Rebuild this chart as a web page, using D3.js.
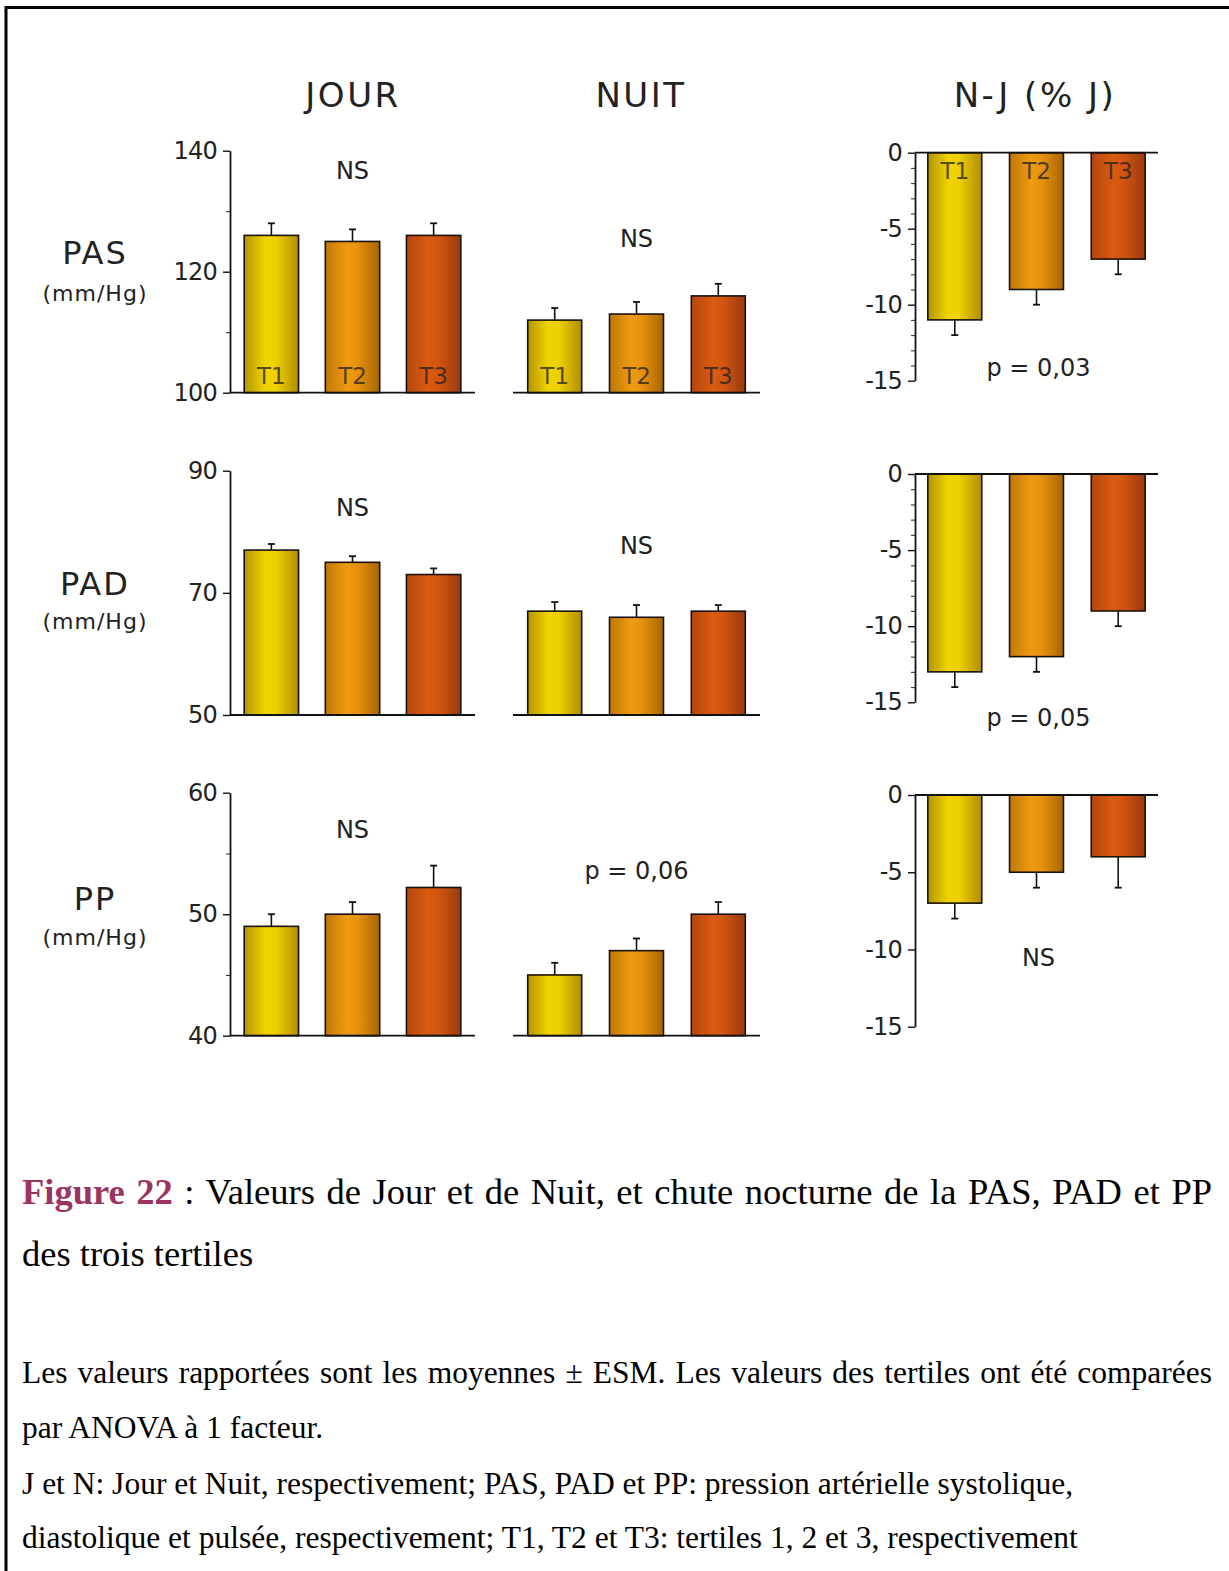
<!DOCTYPE html>
<html>
<head>
<meta charset="utf-8">
<script src="https://cdn.jsdelivr.net/npm/d3@7"></script>
<style>
  html, body { margin: 0; padding: 0; background: #fff; }
  svg { display: block; }
  .lbl { font-family: "DejaVu Sans", sans-serif; fill: #222; }
  .cap { font-family: "Liberation Serif", "Times New Roman", serif; fill: #000; }
</style>
</head>
<body>
<script>
// ---------- data ----------
const tertiles = ["T1", "T2", "T3"];
const rowNames = ["PAS", "PAD", "PP"];
const columnTitles = ["JOUR", "NUIT", "N-J (% J)"];
const unitLabel = "(mm/Hg)";

// means and SEM, per tertile
const pasJour = [126, 125, 126];
const pasJourSem = [2, 2, 2];
const pasNuit = [112, 113, 116];
const pasNuitSem = [2, 2, 2];
const pasNJ = [-11, -9, -7];
const pasNJSem = [1, 1, 1];

const padJour = [77, 75, 73];
const padJourSem = [1, 1, 1];
const padNuit = [67, 66, 67];
const padNuitSem = [1.5, 2, 1];
const padNJ = [-13, -12, -9];
const padNJSem = [1, 1, 1];

const ppJour = [49, 50, 52.2];
const ppJourSem = [1, 1, 1.8];
const ppNuit = [45, 47, 50];
const ppNuitSem = [1, 1, 1];
const ppNJ = [-7, -5, -4];
const ppNJSem = [1, 1, 2];

// axis domains and ticks
const pasDomain = [100, 140], pasTicks = [100, 120, 140], pasMinor = [110, 130];
const padDomain = [50, 90],   padTicks = [50, 70, 90],    padMinor = [];
const ppDomain = [40, 60],    ppTicks = [40, 50, 60],     ppMinor = [45, 55];
const njDomain = [-15, 0],    njTicks = [0, -5, -10, -15];
const njMinor = [-1, -2, -3, -4, -6, -7, -8, -9, -11, -12, -13, -14];

// significance of the one-way ANOVA
const sigJour = ["NS", "NS", "NS"];
const sigNuit = ["NS", "NS", "p = 0,06"];
const sigNJ = ["p = 0,03", "p = 0,05", "NS"];

// caption
const captionTitle = "Figure 22";
const captionLines = [
  { text: " : Valeurs de Jour et de Nuit, et chute nocturne de la PAS, PAD et PP", title: true, justify: true },
  { text: "des trois tertiles", title: false, justify: false }
];
const noteLines = [
  { text: "Les valeurs rapportées sont les moyennes ± ESM. Les valeurs des tertiles ont été comparées", justify: true },
  { text: "par ANOVA à 1 facteur.", justify: false },
  { text: "J et N: Jour et Nuit, respectivement; PAS, PAD et PP: pression artérielle systolique,", justify: false },
  { text: "diastolique et pulsée, respectivement; T1, T2 et T3: tertiles 1, 2 et 3, respectivement", justify: false }
];

// ---------- layout ----------
const W = 1229, H = 1571;
const colX = [
  { range: [230, 475], inner: 0.33, outer: 0.175 },   // jour
  { range: [513, 760], inner: 0.34, outer: 0.18 },    // nuit
  { range: [915, 1158], inner: 0.34, outer: 0.157 }   // N-J
];
const rowLayout = [
  { abs: [392.7, 150.7], rel: [380.7, 152.7], name: 252, unit: 293, sig: [170, 238, 367] },
  { abs: [715, 470.7],   rel: [702.3, 474],   name: 583, unit: 621, sig: [507, 545, 717] },
  { abs: [1035.7, 792.7], rel: [1026.7, 795], name: 898, unit: 937, sig: [829, 870, 957] }
];

const rowsData = [
  { domain: pasDomain, ticks: pasTicks, minor: pasMinor, jour: pasJour, jourSem: pasJourSem, nuit: pasNuit, nuitSem: pasNuitSem, nj: pasNJ, njSem: pasNJSem, njMinor: njMinor, tLabels: true },
  { domain: padDomain, ticks: padTicks, minor: padMinor, jour: padJour, jourSem: padJourSem, nuit: padNuit, nuitSem: padNuitSem, nj: padNJ, njSem: padNJSem, njMinor: njMinor, tLabels: false },
  { domain: ppDomain, ticks: ppTicks, minor: ppMinor, jour: ppJour, jourSem: ppJourSem, nuit: ppNuit, nuitSem: ppNuitSem, nj: ppNJ, njSem: ppNJSem, njMinor: [], tLabels: false }
];

const svg = d3.select("body").append("svg")
  .attr("width", W).attr("height", H)
  .attr("viewBox", `0 0 ${W} ${H}`);

// frame around the figure
svg.append("path")
  .attr("d", `M6,${H + 5}V7.5H${W + 5}`)
  .attr("fill", "none").attr("stroke", "#000").attr("stroke-width", 3);

// shaded bar fills, one per tertile
const barStops = {
  T1: [["0%", "#b39500"], ["38%", "#f0d300"], ["58%", "#efcf00"], ["100%", "#ae8e00"]],
  T2: [["0%", "#c07708"], ["40%", "#ee9b12"], ["60%", "#e8900e"], ["100%", "#a56600"]],
  T3: [["0%", "#b54610"], ["40%", "#d95b10"], ["60%", "#d25510"], ["100%", "#963a10"]]
};
const defs = svg.append("defs");
tertiles.forEach(t => {
  const lg = defs.append("linearGradient").attr("id", "grad-" + t)
    .attr("x1", "0%").attr("x2", "100%").attr("y1", "0%").attr("y2", "0%");
  barStops[t].forEach(([o, c]) => lg.append("stop").attr("offset", o).attr("stop-color", c));
});

// column titles
const titleCenters = [353, 641, 1035];
columnTitles.forEach((t, i) => {
  svg.append("text").attr("class", "lbl")
    .attr("x", titleCenters[i]).attr("y", 95).attr("dy", "0.36em")
    .attr("text-anchor", "middle")
    .attr("font-size", 34).attr("letter-spacing", 2.5)
    .text(t);
});

function drawPanel(g, opts) {
  const x = d3.scaleBand().domain(tertiles).range(opts.xr.range)
    .paddingInner(opts.xr.inner).paddingOuter(opts.xr.outer);
  const y = d3.scaleLinear().domain(opts.domain).range(opts.yr);
  const base = opts.base;
  const data = tertiles.map((t, i) => ({ t, v: opts.values[i], e: opts.sem[i] }));

  // error bars
  data.forEach(d => {
    const dir = d.v >= base ? 1 : -1;
    const cx = x(d.t) + x.bandwidth() / 2;
    const yEnd = y(d.v + dir * d.e);
    g.append("line").attr("x1", cx).attr("x2", cx).attr("y1", y(d.v)).attr("y2", yEnd)
      .attr("stroke", "#111").attr("stroke-width", 1.6);
    g.append("line").attr("x1", cx - 3.5).attr("x2", cx + 3.5).attr("y1", yEnd).attr("y2", yEnd)
      .attr("stroke", "#111").attr("stroke-width", 1.8);
  });

  // bars
  g.selectAll("rect.bar").data(data).join("rect").attr("class", "bar")
    .attr("x", d => x(d.t))
    .attr("width", x.bandwidth())
    .attr("y", d => Math.min(y(d.v), y(base)))
    .attr("height", d => Math.abs(y(d.v) - y(base)))
    .attr("fill", d => `url(#grad-${d.t})`)
    .attr("stroke", "#1a1208").attr("stroke-width", 1.6);

  // tertile names inside the bars
  if (opts.tLabels) {
    g.selectAll("text.tl").data(data).join("text").attr("class", "lbl tl")
      .attr("x", d => x(d.t) + x.bandwidth() / 2)
      .attr("y", d => opts.tLabels === "top" ? y(base) + 18 : y(base) - 17)
      .attr("dy", "0.36em")
      .attr("text-anchor", "middle").attr("font-size", 23)
      .attr("fill", "#2a1a00").attr("fill-opacity", 0.75)
      .text(d => d.t);
  }

  // baseline
  g.append("line")
    .attr("x1", x.range()[0]).attr("x2", x.range()[1])
    .attr("y1", y(base)).attr("y2", y(base))
    .attr("stroke", "#111").attr("stroke-width", 1.8);

  // y axis
  if (opts.ticks) {
    const ax = g.append("g").attr("transform", `translate(${x.range()[0]},0)`)
      .call(d3.axisLeft(y).tickValues(opts.ticks).tickSize(7).tickSizeOuter(0)
        .tickPadding(6).tickFormat(d => String(d)));
    ax.select(".domain").attr("stroke", "#111").attr("stroke-width", 1.8);
    ax.selectAll(".tick line").attr("stroke", "#111").attr("stroke-width", 1.4);
    ax.selectAll(".tick text").attr("class", "lbl")
      .attr("font-size", 24).attr("letter-spacing", -0.8).attr("fill", "#222");
    ax.attr("font-family", null);
    if (opts.minor && opts.minor.length) {
      const mx = g.append("g").attr("transform", `translate(${x.range()[0]},0)`)
        .call(d3.axisLeft(y).tickValues(opts.minor).tickSize(4).tickFormat(""));
      mx.select(".domain").remove();
      mx.selectAll(".tick line").attr("stroke", "#333").attr("stroke-width", 1.1);
    }
  }

  // significance
  g.append("text").attr("class", "lbl")
    .attr("x", (x.range()[0] + x.range()[1]) / 2 + opts.sigShift)
    .attr("y", opts.sigY).attr("dy", "0.36em")
    .attr("text-anchor", "middle").attr("font-size", 24)
    .text(opts.sig);
}

rowsData.forEach((r, ri) => {
  const L = rowLayout[ri];

  // row label
  svg.append("text").attr("class", "lbl")
    .attr("x", 95).attr("y", L.name).attr("dy", "0.36em")
    .attr("text-anchor", "middle").attr("font-size", 32).attr("letter-spacing", 2)
    .text(rowNames[ri]);
  svg.append("text").attr("class", "lbl")
    .attr("x", 95).attr("y", L.unit).attr("dy", "0.36em")
    .attr("text-anchor", "middle").attr("font-size", 22).attr("letter-spacing", 1)
    .text(unitLabel);

  drawPanel(svg.append("g"), {
    xr: colX[0], domain: r.domain, yr: L.abs, base: r.domain[0],
    values: r.jour, sem: r.jourSem, ticks: r.ticks, minor: r.minor,
    tLabels: r.tLabels ? "bottom" : false, sig: sigJour[ri], sigY: L.sig[0], sigShift: 0
  });
  drawPanel(svg.append("g"), {
    xr: colX[1], domain: r.domain, yr: L.abs, base: r.domain[0],
    values: r.nuit, sem: r.nuitSem, ticks: null,
    tLabels: r.tLabels ? "bottom" : false, sig: sigNuit[ri], sigY: L.sig[1], sigShift: 0
  });
  drawPanel(svg.append("g"), {
    xr: colX[2], domain: njDomain, yr: L.rel, base: 0,
    values: r.nj, sem: r.njSem, ticks: njTicks, minor: r.njMinor,
    tLabels: r.tLabels ? "top" : false, sig: sigNJ[ri], sigY: L.sig[2], sigShift: 2
  });
});

// ---------- caption ----------
const textLeft = 22, textRight = 1212;

function justifyLine(sel, enabled) {
  if (!enabled) return;
  const node = sel.node();
  const natural = node.getComputedTextLength();
  const spaces = (node.textContent.match(/ /g) || []).length;
  if (spaces > 0) sel.attr("word-spacing", (textRight - textLeft - natural) / spaces);
}

const capBase = [1204, 1266];
captionLines.forEach((ln, i) => {
  const t = svg.append("text").attr("class", "cap")
    .attr("x", textLeft).attr("y", capBase[i]).attr("font-size", 36.5)
    .attr("xml:space", "preserve");
  if (ln.title) {
    t.append("tspan").attr("font-weight", "bold").attr("fill", "#9b3363").text(captionTitle);
  }
  t.append("tspan").text(ln.text);
  justifyLine(t, ln.justify);
});

const noteBase = [1383, 1438, 1494, 1548];
noteLines.forEach((ln, i) => {
  const t = svg.append("text").attr("class", "cap")
    .attr("x", textLeft).attr("y", noteBase[i]).attr("font-size", 31.5)
    .text(ln.text);
  justifyLine(t, ln.justify);
});
</script>
</body>
</html>
